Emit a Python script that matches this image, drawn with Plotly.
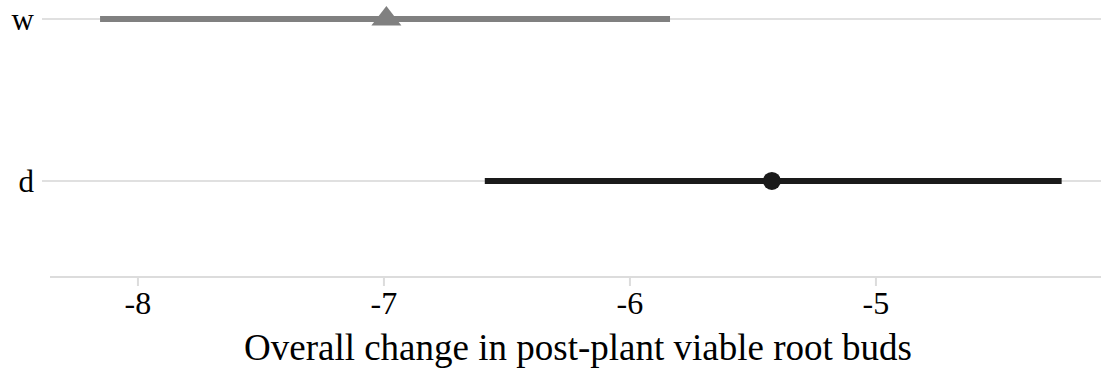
import plotly.graph_objects as go

categories = ["d", "w"]
estimates = [-5.423, -6.99]
lower = [-6.59, -8.154]
upper = [-4.245, -5.837]
colors = ["#1a1a1a", "#808080"]
symbols = ["circle", "triangle-up"]
xticks = [-8, -7, -6, -5]
xlabel = "Overall change in post-plant viable root buds"

W, H = 1101, 371
L, B = 42, 94
PH = H - B

fig = go.Figure()
for i, cat in enumerate(categories):
    y = i + 1
    fig.add_trace(go.Scatter(x=[lower[i], upper[i]], y=[y, y], mode="lines",
                             line=dict(color=colors[i], width=6), showlegend=False, hoverinfo="skip"))
    fig.add_trace(go.Scatter(x=[estimates[i]], y=[y], mode="markers",
                             marker=dict(color=colors[i], symbol=symbols[i],
                                         size=18 if symbols[i] == "circle" else 26),
                             showlegend=False))

shapes = [dict(type="line", xref="paper", yref="paper",
               x0=(50 - L) / (W - L), x1=1, y0=0, y1=0,
               line=dict(color="#dcdcdc", width=2), layer="below")]
for t in xticks:
    shapes.append(dict(type="line", xref="x", yref="paper", x0=t, x1=t,
                       y0=0, y1=-9 / PH, line=dict(color="#dcdcdc", width=2)))

fig.update_layout(
    width=W, height=H,
    margin=dict(l=L, r=0, t=0, b=B),
    paper_bgcolor="white", plot_bgcolor="white",
    font=dict(family="Liberation Serif", color="black", size=32),
    xaxis=dict(range=[-8.390, -4.085], tickvals=xticks, ticktext=[str(t) for t in xticks],
               showgrid=False, zeroline=False, showline=False, ticks="", ticklabelstandoff=4,
               tickfont=dict(size=32, family="Liberation Serif", color="black"), fixedrange=True),
    yaxis=dict(range=[0.407, 2.117], tickvals=[1, 2], ticktext=categories,
               showgrid=True, gridcolor="#e0e0e0", gridwidth=2, zeroline=False,
               showline=False, ticks="", ticklabelstandoff=7,
               tickfont=dict(size=31, family="Liberation Serif", color="black"), fixedrange=True),
    annotations=[dict(text=xlabel, xref="paper", yref="paper",
                      x=(578 - L) / (W - L), y=-(347 - PH) / PH,
                      xanchor="center", yanchor="middle", showarrow=False,
                      font=dict(size=37, family="Liberation Serif", color="black"))],
    shapes=shapes,
)

fig.write_html("out.html")
